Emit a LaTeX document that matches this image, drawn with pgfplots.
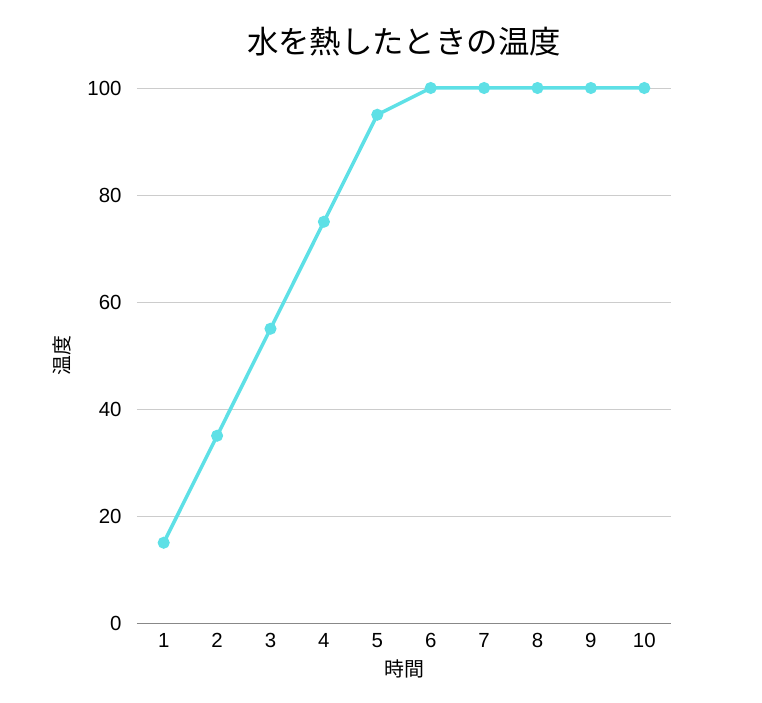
\documentclass[border=0pt]{standalone}
\usepackage{pgfplots}
\pgfplotsset{compat=1.18}
\usepackage{fontspec}
\setmainfont{Liberation Sans}
\newfontfamily\cjk{Noto Sans CJK JP}
\definecolor{linec}{HTML}{5EE0E6}
\definecolor{gridc}{HTML}{CCCCCC}
\definecolor{axisc}{HTML}{888888}
\begin{document}
\begin{tikzpicture}
\begin{axis}[
  scale only axis,
  width=534bp, height=535bp,
  xmin=0.5, xmax=10.5,
  ymin=0, ymax=100,
  xtick={1,...,10},
  ytick={0,20,40,60,80,100},
  ymajorgrids,
  grid style={gridc, line width=0.8pt},
  axis lines*=left,
  x axis line style={axisc, line width=0.9pt},
  y axis line style={draw=none},
  major tick length=0pt,
  tick label style={font=\fontsize{20.5}{22}\selectfont},
  /pgf/number format/assume math mode=true,
  xticklabel style={yshift=-7bp},
  yticklabel style={xshift=-12bp},
  xlabel={\cjk 時間},
  ylabel={\cjk 温度},
  label style={font=\fontsize{20}{22}\selectfont},
  xlabel style={yshift=-5bp},
  ylabel style={yshift=9bp},
  title={\cjk 水を熱したときの温度},
  title style={font=\fontsize{31.5}{33}\selectfont, yshift=22bp},
  clip=false,
]
\addplot[linec, line width=3.5bp, mark=*, mark size=4.2bp, mark options={fill=linec, draw=none}]
coordinates {(1,15) (2,35) (3,55) (4,75) (5,95) (6,100) (7,100) (8,100) (9,100) (10,100)};
\end{axis}
\path[use as bounding box] ([shift={(-137bp,-80bp)}]current axis.south west) rectangle ([shift={(91bp,88bp)}]current axis.north east);
\end{tikzpicture}
\end{document}
